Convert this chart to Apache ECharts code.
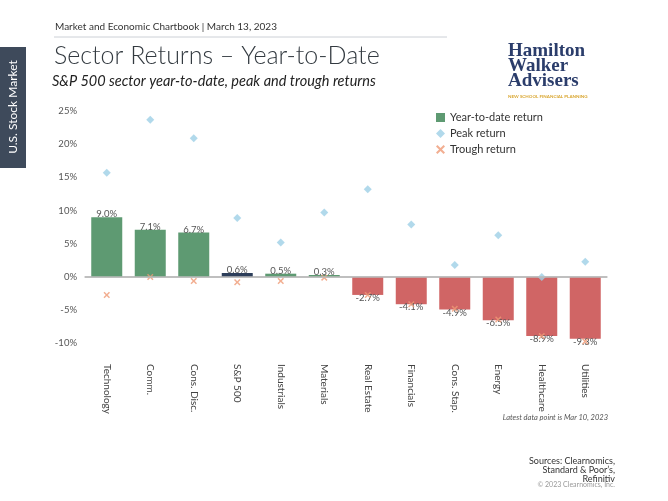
<!DOCTYPE html>
<html><head><meta charset="utf-8">
<script src="https://cdn.jsdelivr.net/npm/echarts@6/dist/echarts.min.js"></script>
<style>html,body{margin:0;padding:0;background:#fff}#c{width:668px;height:501px}</style>
</head><body><div id="c"></div>
<script>
const categories = ['Technology','Comm.','Cons. Disc.','S&P 500','Industrials','Materials','Real Estate','Financials','Cons. Stap.','Energy','Healthcare','Utilities'];
const ytdReturn = [9.0, 7.1, 6.7, 0.6, 0.5, 0.3, -2.7, -4.1, -4.9, -6.5, -8.9, -9.3];
const peakReturn = [15.7, 23.7, 20.9, 8.9, 5.2, 9.7, 13.2, 7.9, 1.8, 6.3, 0.0, 2.3];
const troughReturn = [-2.7, 0.0, -0.6, -0.8, -0.6, -0.1, -2.7, -4.1, -4.8, -6.4, -8.9, -9.7];
const yTickLabels = ['-10%','-5%','0%','5%','10%','15%','20%','25%'];

const GREEN = '#5e9a72', NAVY = '#2d3e5a', RED = '#d06565', BLUE = '#9ed0e6', ORANGE = '#ef9a76';
const F = 'Lato, "Noto Sans", sans-serif';
const xPath = 'path://M0,1.6 L1.6,0 L5,3.4 L8.4,0 L10,1.6 L6.6,5 L10,8.4 L8.4,10 L5,6.6 L1.6,10 L0,8.4 L3.4,5 Z';

const chart = echarts.init(document.getElementById('c'), null, {renderer:'canvas'});
chart.setOption({
  animation:false,
  textStyle:{fontFamily:F},
  grid:{left:85, right:61, top:111, bottom:141},
  legend:{
    orient:'vertical', left:431, top:106, itemGap:3, itemWidth:9, itemHeight:9,
    textStyle:{fontSize:11, color:'#333', fontFamily:F, lineHeight:13},
    data:[
      {name:'Year-to-date return', icon:'rect', itemStyle:{color:GREEN}},
      {name:'Peak return', icon:'diamond', itemStyle:{color:BLUE}},
      {name:'Trough return', icon:xPath, itemStyle:{color:ORANGE}}
    ]
  },
  xAxis:{
    type:'category', data:categories,
    axisLine:{show:true, lineStyle:{color:'#bbb', width:1.5}},
    axisTick:{show:false},
    axisLabel:{rotate:-90, interval:0, fontSize:10, color:'#444', margin:4, fontFamily:F}
  },
  yAxis:{
    type:'value', min:-12.5, max:25, interval:2.5,
    axisLine:{show:false}, axisTick:{show:false}, splitLine:{show:false},
    axisLabel:{fontSize:9.5, color:'#555', margin:8, fontFamily:F,
      formatter:v => (Math.round(v) === v && v % 5 === 0) ? yTickLabels[(v + 10) / 5] : ''}
  },
  series:[
    {
      name:'Year-to-date return', type:'bar', barWidth:31, z:2,
      data: ytdReturn.map((v,i) => ({
        value:v,
        itemStyle:{color: categories[i]==='S&P 500' ? NAVY : (v >= 0 ? GREEN : RED)},
        label:{position: v >= 0 ? 'top' : 'bottom'}
      })),
      label:{show:true, distance:-2, fontSize:9.5, color:'#555', fontFamily:F,
        formatter:p => p.value.toFixed(1) + '%'},
      markLine:{silent:true, symbol:'none', label:{show:false},
        lineStyle:{color:'#bbb', type:'solid', width:1.5}, data:[{yAxis:0}]}
    },
    {
      name:'Peak return', type:'scatter', symbol:'diamond', symbolSize:8, z:3,
      itemStyle:{color:BLUE}, data:peakReturn
    },
    {
      name:'Trough return', type:'scatter', symbol:xPath, symbolSize:6.5, z:4,
      itemStyle:{color:ORANGE}, data:troughReturn
    }
  ],
  graphic:[
    {type:'text', x:55, y:27, style:{text:'Market and Economic Chartbook | March 13, 2023', font:'10px '+F, fill:'#333', verticalAlign:'middle'}},
    {type:'line', shape:{x1:54, y1:37, x2:447, y2:37}, style:{stroke:'#ccd0d6', lineWidth:1}},
    {type:'text', x:54, y:56, style:{text:'Sector Returns – Year-to-Date', font:'300 25px '+F, fill:'#333a40', verticalAlign:'middle'}},
    {type:'text', x:52, y:81, style:{text:'S&P 500 sector year-to-date, peak and trough returns', font:'italic 14.5px '+F, fill:'#222', verticalAlign:'middle'}},
    {type:'rect', shape:{x:0, y:47, width:26, height:121}, style:{fill:'#3e4a5b'}},
    {type:'text', x:13, y:107, rotation:Math.PI/2, style:{text:'U.S. Stock Market', font:'12px '+F, fill:'#fff', align:'center', verticalAlign:'middle'}},
    {type:'text', x:508, y:44, style:{text:'Hamilton\nWalker\nAdvisers', font:'bold 19px "Liberation Serif", "DejaVu Serif", serif', fill:'#2b3d6b', lineHeight:15}},
    {type:'text', x:508, y:94, style:{text:'NEW SCHOOL FINANCIAL PLANNING', font:'bold 4.5px '+F, fill:'#d9a630'}},
    {type:'text', x:608, y:418, style:{text:'Latest data point is Mar 10, 2023', font:'italic 7.5px '+F, fill:'#555', align:'right', verticalAlign:'middle'}},
    {type:'text', x:615, y:457, style:{text:'Sources: Clearnomics,\nStandard & Poor\u2019s,\nRefinitiv', font:'9px '+F, fill:'#333', align:'right', lineHeight:9}},
    {type:'text', x:615, y:485, style:{text:'© 2023 Clearnomics, Inc.', font:'7px '+F, fill:'#999', align:'right', verticalAlign:'middle'}}
  ]
});
</script></body></html>
